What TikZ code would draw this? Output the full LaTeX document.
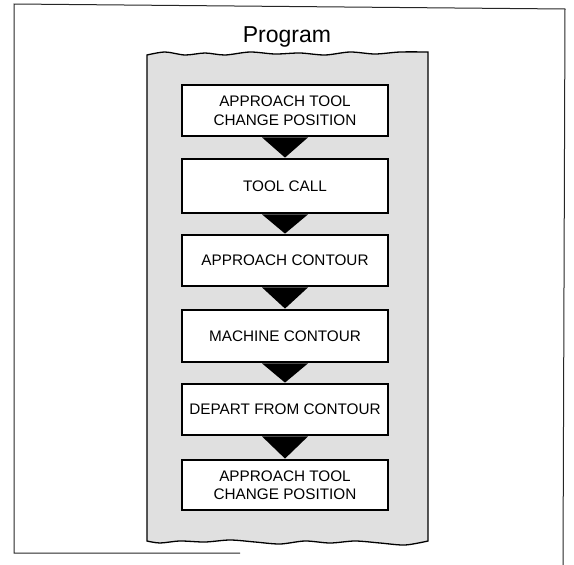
\documentclass[tikz,border=0pt]{standalone}
\usepackage{fontspec}
\setmainfont{Liberation Sans}
\usetikzlibrary{calc}
\definecolor{panelgray}{gray}{0.88}
\tikzset{
  stepbox/.style={draw=black, line width=1.4pt, fill=white, minimum width=206pt,
    inner sep=0pt, align=center, font=\fontsize{15.3}{18.5}\selectfont},
  flowtip/.style={fill=black, draw=none},
  frameline/.style={line width=1pt, draw=black!85}
}
\begin{document}
\begin{tikzpicture}[x=1pt,y=-1pt]
\useasboundingbox (0,0) rectangle (574,565);

% outer frame, open at the lower right
\draw[frameline] (240,553) -- (14,553) -- (14,4) -- (565,9) -- (563,565);

% title
\node (title) at (287,37) {\fontsize{23}{26}\selectfont Program};

% grey program panel with torn top and bottom edges
\draw[line width=1.3pt, fill=panelgray]
  plot[smooth] coordinates {(147,55) (165,52) (185,55) (205,53) (225,55) (250,52)
    (275,54) (300,53) (325,55) (350,52) (375,54) (400,52) (428,52)}
  -- plot[smooth] coordinates {(428,541) (405,545) (380,543) (355,541) (330,543)
    (305,541) (280,544) (255,542) (230,540) (205,542) (180,541) (160,543) (147,541)}
  -- cycle;

% program steps
\node[stepbox, minimum height=51pt] (b1) at (285,110.5) {APPROACH TOOL\\CHANGE POSITION};
\node[stepbox, minimum height=54pt] (b2) at (285,186)   {TOOL CALL};
\node[stepbox, minimum height=51pt] (b3) at (285,260.5) {APPROACH CONTOUR};
\node[stepbox, minimum height=52pt] (b4) at (285,336)   {MACHINE CONTOUR};
\node[stepbox, minimum height=51pt] (b5) at (285,409.5) {DEPART FROM CONTOUR};
\node[stepbox, minimum height=50pt] (b6) at (285,485)   {APPROACH TOOL\\CHANGE POSITION};

% solid triangular arrows between the steps
\foreach \a/\b in {b1/b2, b2/b3, b3/b4, b4/b5, b5/b6} {
  \fill[flowtip] ($(\a.south)+(-23,0.7)$) -- ($(\a.south)+(23,0.7)$) -- ($(\b.north)+(0,-0.7)$) -- cycle;
}
\end{tikzpicture}
\end{document}
